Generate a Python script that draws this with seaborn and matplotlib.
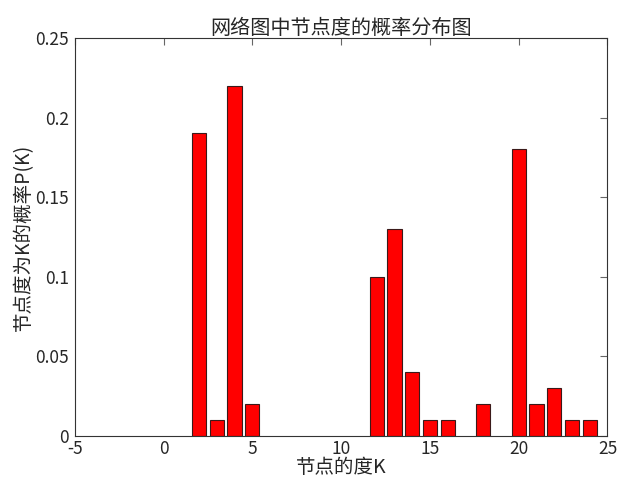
import matplotlib
matplotlib.use("Agg")
import matplotlib.pyplot as plt
import seaborn as sns
import pandas as pd

# Degree values and probabilities
degree_k = [2, 3, 4, 5, 12, 13, 14, 15, 16, 18, 20, 21, 22, 23, 24]
prob_k = [0.19, 0.01, 0.22, 0.02, 0.10, 0.13, 0.04, 0.01, 0.01, 0.02, 0.18, 0.02, 0.03, 0.01, 0.01]
x_ticks = [-5, 0, 5, 10, 15, 20, 25]
y_ticks = [0, 0.05, 0.1, 0.15, 0.2, 0.25]
y_tick_labels = ["0", "0.05", "0.1", "0.15", "0.2", "0.25"]

sns.set_style("white")
plt.rcParams["font.family"] = ["Noto Sans CJK SC", "DejaVu Sans"]

df = pd.DataFrame({"k": degree_k, "p": prob_k})

fig = plt.figure(figsize=(6.18, 4.86), dpi=100)
ax = fig.add_axes([0.121, 0.103, 0.862, 0.819])

sns.barplot(
    data=df,
    x="k",
    y="p",
    native_scale=True,
    width=0.8,
    color="#ff0000",
    saturation=1,
    edgecolor="#3a1a1a",
    linewidth=0.8,
    ax=ax,
)

ax.set_xlim(-5, 25)
ax.set_ylim(0, 0.25)
ax.set_xticks(x_ticks)
ax.set_xticklabels([str(t) for t in x_ticks])
ax.set_yticks(y_ticks)
ax.set_yticklabels(y_tick_labels)
ax.tick_params(direction="in", top=True, right=True, length=5, labelsize=12.5, color="#666666")
ax.tick_params(axis="x", pad=3)
ax.tick_params(axis="y", pad=4)
for s in ax.spines.values():
    s.set_color("#333333")
    s.set_linewidth(0.8)

ax.set_title("网络图中节点度的概率分布图", fontsize=14.5, pad=3)
ax.set_xlabel("节点的度K", fontsize=14, labelpad=-1)
ax.set_ylabel("节点度为K的概率P(K)", fontsize=14, labelpad=1)

fig.savefig("out.png", dpi=100)
